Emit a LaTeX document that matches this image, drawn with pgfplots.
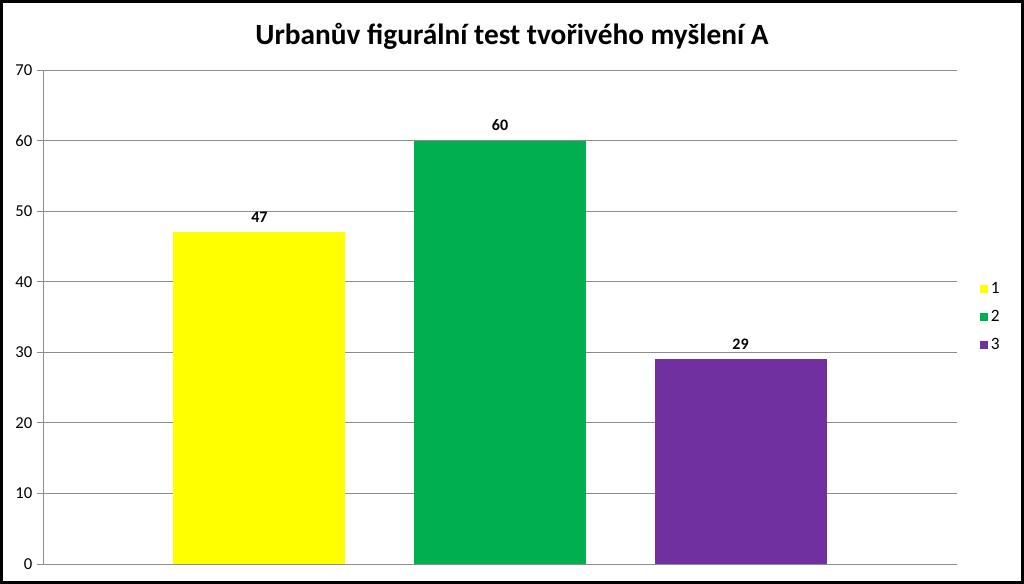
\documentclass[border=0pt]{standalone}
\usepackage{pgfplots}
\pgfplotsset{compat=1.18}
\usepackage{fontspec}
\setmainfont{Carlito}

\definecolor{bargelb}{RGB}{255,255,0}
\definecolor{bargruen}{RGB}{0,176,80}
\definecolor{barlila}{RGB}{112,48,160}
\definecolor{gitter}{RGB}{140,140,140}

\begin{document}
\begin{tikzpicture}
\useasboundingbox (0,0) rectangle (768pt,438pt);
\fill[white] (0,0) rectangle (768pt,438pt);

\node[font=\bfseries\fontsize{22}{26}\selectfont] at (384pt,411pt) {Urbanův figurální test tvořivého myšlení A};

\begin{axis}[
    at={(32.25pt,15pt)}, anchor=south west,
    scale only axis,
    width=685.5pt, height=370.5pt,
    xmin=0.1, xmax=3.9,
    ymin=0, ymax=70,
    ytick={0,10,...,70},
    xtick=\empty,
    axis x line*=bottom,
    axis y line*=left,
    axis line style={gitter, -},
    ymajorgrids,
    major grid style={gitter, line width=0.6pt},
    y tick style={gitter, line width=0.6pt},
    tick align=outside,
    major tick length=4.5pt,
    tick label style={font=\fontsize{12.5}{15}\selectfont},
    /pgf/number format/assume math mode=true,
    ybar, bar width=129pt, bar shift=0pt,
    nodes near coords,
    every node near coord/.append style={font=\bfseries\fontsize{12}{14}\selectfont, black, yshift=4pt},
    legend style={at={(1.025,0.5)}, anchor=west, draw=none, fill=none,
        font=\fontsize{13}{15}\selectfont, row sep=7pt, inner sep=0pt},
    legend cell align=left,
    legend image code/.code={\fill (0pt,-3pt) rectangle (6pt,3pt);},
]
\addplot[fill=bargelb, draw=none] coordinates {(1,47)};
\addlegendentry{1}
\addplot[fill=bargruen, draw=none] coordinates {(2,60)};
\addlegendentry{2}
\addplot[fill=barlila, draw=none] coordinates {(3,29)};
\addlegendentry{3}
\end{axis}

\draw[black, line width=2.25pt] (1.125pt,1.125pt) rectangle (766.875pt,436.875pt);
\end{tikzpicture}
\end{document}
